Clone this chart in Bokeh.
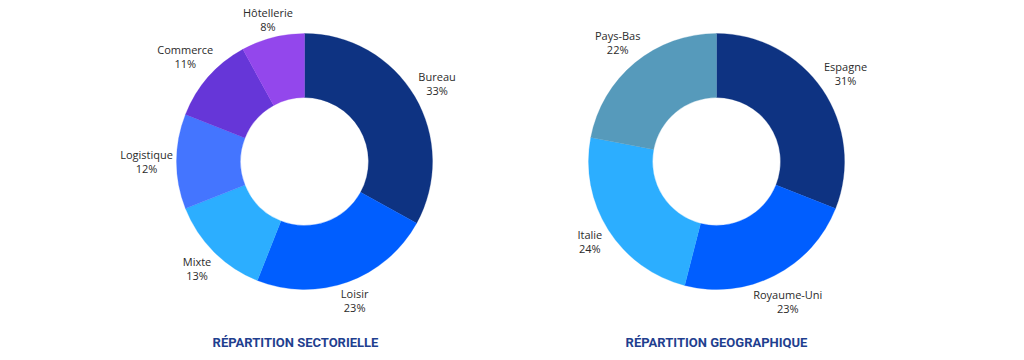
import math
from bokeh.plotting import figure
from bokeh.models import ColumnDataSource
from bokeh.core.properties import value
from bokeh.embed import file_html
from bokeh.resources import INLINE

# ---- data ----
sect_labels = ["Bureau", "Loisir", "Mixte", "Logistique", "Commerce", "Hôtellerie"]
sect_values = [33, 23, 13, 12, 11, 8]
sect_colors = ["#0e3382", "#005eff", "#2caeff", "#4475ff", "#6636d8", "#9347ec"]

geo_labels = ["Espagne", "Royaume-Uni", "Italie", "Pays-Bas"]
geo_values = [31, 23, 24, 22]
geo_colors = ["#0e3382", "#005eff", "#2caeff", "#569abb"]

titles = ["RÉPARTITION SECTORIELLE", "RÉPARTITION GEOGRAPHIQUE"]

# layout: distance of each label from its donut centre (px)
sect_label_r = [154, 148, 152, 158, 159, 147]
geo_label_r = [156, 157, 150, 155]

W, H = 1024, 360
p = figure(width=W, height=H, x_range=(0, W), y_range=(0, H),
           output_backend="svg", toolbar_location=None, min_border=0)
p.axis.visible = False
p.grid.visible = False
p.outline_line_color = None
p.background_fill_color = "white"
p.border_fill_color = "white"

R_OUT, R_IN = 128, 64


def donut(cx, cy, labels, vals, colors, lab_r, title, title_x):
    total = float(sum(vals))
    starts, ends, lx, ly, pct = [], [], [], [], []
    cum = 0.0
    for v, r in zip(vals, lab_r):
        a0 = math.pi / 2 - 2 * math.pi * cum / total
        cum += v
        a1 = math.pi / 2 - 2 * math.pi * cum / total
        starts.append(a0)
        ends.append(a1)
        mid = (a0 + a1) / 2
        lx.append(cx + r * math.cos(mid))
        ly.append(cy + r * math.sin(mid))
        pct.append(f"{v}%")
    src = ColumnDataSource(dict(x=[cx] * len(vals), y=[cy] * len(vals),
                                start=starts, end=ends, color=colors,
                                lx=lx, ly=ly, name=labels, pct=pct))
    p.annular_wedge(x="x", y="y", inner_radius=R_IN, outer_radius=R_OUT,
                    start_angle="start", end_angle="end", direction="clock",
                    fill_color="color", line_color="color", line_width=0.3,
                    source=src)
    p.text(x="lx", y="ly", text="name", source=src, y_offset=-7,
           text_align="center", text_baseline="middle",
           text_font=value("Open Sans"), text_font_size="11px",
           text_color="#2b2b2b")
    p.text(x="lx", y="ly", text="pct", source=src, y_offset=7,
           text_align="center", text_baseline="middle",
           text_font=value("Open Sans"), text_font_size="11px",
           text_color="#2b2b2b")
    p.text(x=[title_x], y=[H - 342], text=[title],
           text_align="center", text_baseline="middle",
           text_font=value("Roboto"), text_font_style="bold",
           text_font_size="13px", text_color="#1f3f8f")


donut(304, H - 161, sect_labels, sect_values, sect_colors, sect_label_r, titles[0], 295)
donut(716, H - 161, geo_labels, geo_values, geo_colors, geo_label_r, titles[1], 716)

open("out.html", "w").write(file_html(p, INLINE))
